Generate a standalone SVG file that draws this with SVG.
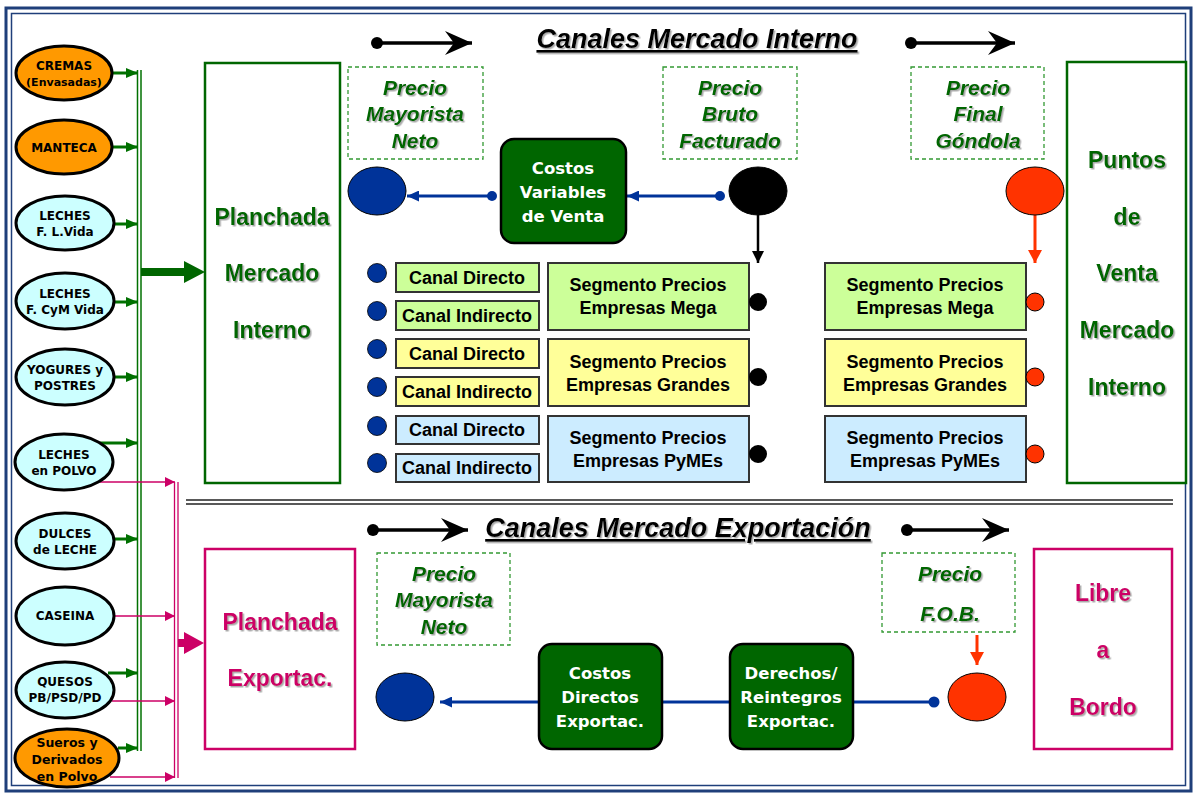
<svg xmlns="http://www.w3.org/2000/svg" width="1193" height="794" viewBox="0 0 1193 794">
<style>
.comic{font-family:"Comic Sans MS","DejaVu Sans",sans-serif;font-weight:bold;text-anchor:middle}
.eltxt{font-size:12px;fill:#000}
.wtxt{font-size:16.5px;fill:#fff}
.big{font-family:"Liberation Sans",Arial,sans-serif;font-weight:bold;text-anchor:middle;font-size:23px}
.gtxt{fill:#006600}
.ptxt{fill:#CC0066}
.price{font-family:"Liberation Sans",Arial,sans-serif;font-weight:bold;font-style:italic;text-anchor:middle;font-size:21px;fill:#006600}
.title{font-family:"Liberation Sans",Arial,sans-serif;font-weight:bold;font-style:italic;text-anchor:middle;font-size:27px;fill:#000;text-decoration:underline}
.box{font-family:"Liberation Sans",Arial,sans-serif;font-weight:bold;text-anchor:middle;font-size:18px;fill:#000}
.orange{fill:#FF9900;stroke:#000;stroke-width:3}
.cyan{fill:#CCFFFF;stroke:#000;stroke-width:3}
.dash{fill:none;stroke:#339933;stroke-width:1.3;stroke-dasharray:4 3}
.cg{fill:#CCFF99;stroke:#333;stroke-width:2}
.cy{fill:#FFFF99;stroke:#333;stroke-width:2}
.cb{fill:#CCECFF;stroke:#333;stroke-width:2}
.dk{fill:#006600;stroke:#000;stroke-width:2.5}
.gbox{fill:#fff;stroke:#006600;stroke-width:2.5}
.pbox{fill:#fff;stroke:#CC0066;stroke-width:2.5}
.blueE{fill:#003399;stroke:#000;stroke-width:1}
.redE{fill:#FF3300;stroke:#000;stroke-width:1}
.blackE{fill:#000;stroke:#000;stroke-width:1}
.ga{stroke:#007000;stroke-width:3;fill:none;marker-end:url(#mG)}
.pa{stroke:#CC0066;stroke-width:1.5;fill:none;marker-end:url(#mP)}
.ba{stroke:#003399;stroke-width:3;fill:none}
.ta{stroke:#000;stroke-width:3.5;fill:none;marker-end:url(#mChev)}
</style>
<defs>
<filter id="sh" x="-10%" y="-10%" width="130%" height="140%">
<feDropShadow dx="1.5" dy="1.5" stdDeviation="0.4" flood-color="#888" flood-opacity="0.7"/>
</filter>
<marker id="mG" markerUnits="userSpaceOnUse" markerWidth="12" markerHeight="10" refX="12" refY="5" orient="auto"><path d="M0,0 L12,5 L0,10 Z" fill="#007000"/></marker>
<marker id="mP" markerUnits="userSpaceOnUse" markerWidth="10" markerHeight="10" refX="10" refY="5" orient="auto"><path d="M0,0 L10,5 L0,10 Z" fill="#CC0066"/></marker>
<marker id="mB" markerUnits="userSpaceOnUse" markerWidth="12" markerHeight="11" refX="12" refY="5.5" orient="auto"><path d="M0,0 L12,5.5 L0,11 Z" fill="#003399"/></marker>
<marker id="mK" markerUnits="userSpaceOnUse" markerWidth="12" markerHeight="12" refX="12" refY="6" orient="auto"><path d="M0,0 L12,6 L0,12 Z" fill="#000"/></marker>
<marker id="mR" markerUnits="userSpaceOnUse" markerWidth="13" markerHeight="14" refX="13" refY="7" orient="auto"><path d="M0,0 L13,7 L0,14 Z" fill="#FF3300"/></marker>
<marker id="mChev" markerUnits="userSpaceOnUse" markerWidth="27" markerHeight="24" refX="27" refY="12" orient="auto"><path d="M0,0 L27,12 L0,24 L9,12 Z" fill="#000"/></marker>
</defs>
<rect x="0" y="0" width="1193" height="794" fill="#fff"/>
<!-- frame -->
<rect x="6" y="8" width="1185" height="783" fill="none" stroke="#1F3F7A" stroke-width="3"/>
<rect x="11.5" y="13.5" width="1174" height="772" fill="none" stroke="#1F3F7A" stroke-width="1.5"/>
<!-- separator -->
<line x1="186" y1="500" x2="1173" y2="500" stroke="#222" stroke-width="1.5"/>
<line x1="186" y1="504" x2="1173" y2="504" stroke="#222" stroke-width="1.5"/>
<!-- titles -->
<text class="title" x="697" y="48" filter="url(#sh)">Canales Mercado Interno</text>
<text class="title" x="678" y="537" filter="url(#sh)">Canales Mercado Exportación</text>

<g id="connectors">
<!-- title arrows -->
<circle cx="377" cy="43" r="6"/><line class="ta" x1="377" y1="43" x2="472" y2="43"/>
<circle cx="911" cy="43" r="6"/><line class="ta" x1="911" y1="43" x2="1015" y2="43"/>
<circle cx="373" cy="530" r="6"/><line class="ta" x1="373" y1="530" x2="468" y2="530"/>
<circle cx="907" cy="530" r="6"/><line class="ta" x1="907" y1="530" x2="1009" y2="530"/>
<!-- green bus -->
<line x1="137.5" y1="70" x2="137.5" y2="751" stroke="#007000" stroke-width="1.5"/>
<line x1="141" y1="70" x2="141" y2="751" stroke="#007000" stroke-width="1.5"/>
<line class="ga" x1="112" y1="73" x2="138" y2="73"/>
<line class="ga" x1="112" y1="147" x2="138" y2="147"/>
<line class="ga" x1="114" y1="224" x2="138" y2="224"/>
<line class="ga" x1="114" y1="302" x2="138" y2="302"/>
<line class="ga" x1="114" y1="377" x2="138" y2="377"/>
<line class="ga" x1="100" y1="443" x2="138" y2="443"/>
<line class="ga" x1="114" y1="539" x2="138" y2="539"/>
<line class="ga" x1="108" y1="673" x2="138" y2="673"/>
<line class="ga" x1="118" y1="748" x2="138" y2="748"/>
<!-- pink bus -->
<line x1="174.5" y1="482" x2="174.5" y2="778" stroke="#CC0066" stroke-width="1.3"/>
<line x1="178" y1="482" x2="178" y2="778" stroke="#CC0066" stroke-width="1.3"/>
<line class="pa" x1="100" y1="482" x2="175" y2="482"/>
<line class="pa" x1="114" y1="616" x2="175" y2="616"/>
<line class="pa" x1="112" y1="701" x2="175" y2="701"/>
<line class="pa" x1="110" y1="777" x2="175" y2="777"/>
<!-- big arrows -->
<path d="M141,268 L184,268 L184,261 L205,272 L184,283 L184,276 L141,276 Z" fill="#006600"/>
<path d="M178,639 L184,639 L184,632 L204,643 L184,654 L184,647 L178,647 Z" fill="#CC0066"/>
<!-- blue connectors top -->
<circle cx="492" cy="196" r="5" fill="#003399"/>
<line class="ba" x1="492" y1="196" x2="407" y2="196" marker-end="url(#mB)"/>
<circle cx="720" cy="196" r="5" fill="#003399"/>
<line class="ba" x1="720" y1="196" x2="627" y2="196" marker-end="url(#mB)"/>
<!-- black arrow down -->
<line x1="758" y1="215" x2="758" y2="263" stroke="#000" stroke-width="2.5" marker-end="url(#mK)"/>
<!-- red arrow down -->
<line x1="1035" y1="215" x2="1035" y2="263" stroke="#FF3300" stroke-width="3" marker-end="url(#mR)"/>
<!-- bottom blue chain -->
<line class="ba" x1="539" y1="702" x2="440" y2="702" marker-end="url(#mB)"/>
<line class="ba" x1="662" y1="702" x2="730" y2="702"/>
<line class="ba" x1="853" y1="702" x2="934" y2="702"/>
<circle cx="934" cy="702" r="5.5" fill="#003399"/>
<line x1="977" y1="635" x2="977" y2="665" stroke="#FF3300" stroke-width="3" marker-end="url(#mR)"/>
</g>

<!-- product ellipses -->
<g id="cremas"><ellipse class="orange" cx="64" cy="73" rx="48" ry="27"/><text class="comic eltxt" x="64" y="70">CREMAS</text><text class="comic" x="64" y="86" font-size="11" fill="#000">(Envasadas)</text></g>
<g id="manteca"><ellipse class="orange" cx="64" cy="147" rx="48" ry="27"/><text class="comic eltxt" x="64" y="152">MANTECA</text></g>
<g id="leches-lvida"><ellipse class="cyan" cx="65" cy="223" rx="49" ry="27"/><text class="comic eltxt" x="65" y="220">LECHES</text><text class="comic eltxt" x="65" y="236">F. L.Vida</text></g>
<g id="leches-cym"><ellipse class="cyan" cx="65" cy="301" rx="49" ry="28"/><text class="comic eltxt" x="65" y="298">LECHES</text><text class="comic eltxt" x="65" y="314">F. CyM Vida</text></g>
<g id="yogures"><ellipse class="cyan" cx="65" cy="377" rx="49" ry="28"/><text class="comic eltxt" x="65" y="374">YOGURES y</text><text class="comic eltxt" x="65" y="390">POSTRES</text></g>
<g id="leches-polvo"><ellipse class="cyan" cx="64" cy="462" rx="49" ry="28"/><text class="comic eltxt" x="64" y="459">LECHES</text><text class="comic eltxt" x="64" y="475">en POLVO</text></g>
<g id="dulces"><ellipse class="cyan" cx="65" cy="541" rx="49" ry="28"/><text class="comic eltxt" x="65" y="538">DULCES</text><text class="comic eltxt" x="65" y="554">de LECHE</text></g>
<g id="caseina"><ellipse class="cyan" cx="65" cy="616" rx="49" ry="29"/><text class="comic eltxt" x="65" y="620">CASEINA</text></g>
<g id="quesos"><ellipse class="cyan" cx="65" cy="690" rx="49" ry="28"/><text class="comic eltxt" x="65" y="686">QUESOS</text><text class="comic eltxt" x="65" y="702">PB/PSD/PD</text></g>
<g id="sueros"><ellipse class="orange" cx="67" cy="758" rx="52" ry="29"/><text class="comic" font-size="12.5" x="67" y="747">Sueros y</text><text class="comic" font-size="12.5" x="67" y="764">Derivados</text><text class="comic" font-size="12.5" x="67" y="781">en Polvo</text></g>

<!-- Planchada boxes -->
<g id="planchada-interno"><rect class="gbox" x="205" y="63" width="135" height="420"/>
<g filter="url(#sh)"><text class="big gtxt" x="272" y="225">Planchada</text><text class="big gtxt" x="272" y="281">Mercado</text><text class="big gtxt" x="272" y="338">Interno</text></g></g>
<g id="planchada-export"><rect class="pbox" x="205" y="549" width="150" height="200"/>
<g filter="url(#sh)"><text class="big ptxt" x="280" y="630">Planchada</text><text class="big ptxt" x="280" y="686">Exportac.</text></g></g>

<!-- Puntos de venta -->
<g id="puntos-venta"><rect class="gbox" x="1067" y="62" width="119" height="421"/>
<g filter="url(#sh)"><text class="big gtxt" x="1127" y="168">Puntos</text><text class="big gtxt" x="1127" y="225">de</text><text class="big gtxt" x="1127" y="281">Venta</text><text class="big gtxt" x="1127" y="338">Mercado</text><text class="big gtxt" x="1127" y="395">Interno</text></g></g>

<!-- Libre a Bordo -->
<g id="libre-bordo"><rect class="pbox" x="1034" y="549" width="138" height="200"/>
<g filter="url(#sh)"><text class="big ptxt" x="1103" y="601">Libre</text><text class="big ptxt" x="1103" y="658">a</text><text class="big ptxt" x="1103" y="715">Bordo</text></g></g>

<!-- price labels -->
<g id="precio-mayorista-int"><rect class="dash" x="348" y="67" width="135" height="92"/>
<g filter="url(#sh)"><text class="price" x="415" y="95">Precio</text><text class="price" x="415" y="121">Mayorista</text><text class="price" x="415" y="148">Neto</text></g></g>
<g id="precio-bruto"><rect class="dash" x="663" y="67" width="134" height="92"/>
<g filter="url(#sh)"><text class="price" x="730" y="95">Precio</text><text class="price" x="730" y="121">Bruto</text><text class="price" x="730" y="148">Facturado</text></g></g>
<g id="precio-final"><rect class="dash" x="911" y="67" width="133" height="92"/>
<g filter="url(#sh)"><text class="price" x="978" y="95">Precio</text><text class="price" x="978" y="121">Final</text><text class="price" x="978" y="148">Góndola</text></g></g>
<g id="precio-mayorista-exp"><rect class="dash" x="377" y="553" width="133" height="92"/>
<g filter="url(#sh)"><text class="price" x="444" y="581">Precio</text><text class="price" x="444" y="607">Mayorista</text><text class="price" x="444" y="634">Neto</text></g></g>
<g id="precio-fob"><rect class="dash" x="882" y="553" width="133" height="79"/>
<g filter="url(#sh)"><text class="price" x="950" y="581">Precio</text><text class="price" x="950" y="621">F.O.B.</text></g></g>

<!-- costos -->
<g id="costos-variables"><rect class="dk" x="501" y="139" width="125" height="104" rx="13"/>
<text class="comic wtxt" x="563" y="174">Costos</text><text class="comic wtxt" x="563" y="198">Variables</text><text class="comic wtxt" x="563" y="222">de Venta</text></g>
<g id="costos-directos"><rect class="dk" x="539" y="644" width="123" height="105" rx="13"/>
<text class="comic wtxt" x="600" y="679">Costos</text><text class="comic wtxt" x="600" y="703">Directos</text><text class="comic wtxt" x="600" y="727">Exportac.</text></g>
<g id="derechos"><rect class="dk" x="730" y="644" width="123" height="105" rx="13"/>
<text class="comic wtxt" x="791" y="679">Derechos/</text><text class="comic wtxt" x="791" y="703">Reintegros</text><text class="comic wtxt" x="791" y="727">Exportac.</text></g>

<!-- price ellipses -->
<g id="ellipse-mayorista"><ellipse class="blueE" cx="377" cy="191" rx="29" ry="24"/></g>
<g id="ellipse-bruto"><ellipse class="blackE" cx="758" cy="191" rx="29" ry="24"/></g>
<g id="ellipse-final"><ellipse class="redE" cx="1035" cy="191" rx="29" ry="24"/></g>
<g id="ellipse-mayorista-exp"><ellipse class="blueE" cx="405" cy="697" rx="29" ry="24"/></g>
<g id="ellipse-fob"><ellipse class="redE" cx="977" cy="697" rx="29" ry="24"/></g>

<!-- canal dots and boxes -->
<g id="canales">
<circle cx="377" cy="273" r="9.5" fill="#003399" stroke="#000" stroke-width="0.8"/>
<circle cx="377" cy="311" r="9.5" fill="#003399" stroke="#000" stroke-width="0.8"/>
<circle cx="377" cy="349" r="9.5" fill="#003399" stroke="#000" stroke-width="0.8"/>
<circle cx="377" cy="387" r="9.5" fill="#003399" stroke="#000" stroke-width="0.8"/>
<circle cx="377" cy="426" r="9.5" fill="#003399" stroke="#000" stroke-width="0.8"/>
<circle cx="377" cy="463" r="9.5" fill="#003399" stroke="#000" stroke-width="0.8"/>
</g>
<g id="canal-directo-mega"><rect class="cg" x="396" y="263" width="143" height="29"/><text class="box" x="467" y="284">Canal Directo</text></g>
<g id="canal-indirecto-mega"><rect class="cg" x="396" y="301" width="143" height="29"/><text class="box" x="467" y="322">Canal Indirecto</text></g>
<g id="canal-directo-grandes"><rect class="cy" x="396" y="339" width="143" height="29"/><text class="box" x="467" y="360">Canal Directo</text></g>
<g id="canal-indirecto-grandes"><rect class="cy" x="396" y="377" width="143" height="29"/><text class="box" x="467" y="398">Canal Indirecto</text></g>
<g id="canal-directo-pymes"><rect class="cb" x="396" y="416" width="143" height="28"/><text class="box" x="467" y="436">Canal Directo</text></g>
<g id="canal-indirecto-pymes"><rect class="cb" x="396" y="454" width="143" height="28"/><text class="box" x="467" y="474">Canal Indirecto</text></g>

<g id="seg-mega-1"><rect class="cg" x="548" y="263" width="201" height="67"/><text class="box" x="648" y="291">Segmento Precios</text><text class="box" x="648" y="314">Empresas Mega</text></g>
<g id="seg-grandes-1"><rect class="cy" x="548" y="339" width="201" height="67"/><text class="box" x="648" y="368">Segmento Precios</text><text class="box" x="648" y="391">Empresas Grandes</text></g>
<g id="seg-pymes-1"><rect class="cb" x="548" y="416" width="201" height="66"/><text class="box" x="648" y="444">Segmento Precios</text><text class="box" x="648" y="467">Empresas PyMEs</text></g>
<g id="dots-black">
<circle cx="758" cy="302" r="9"/><circle cx="758" cy="377" r="9"/><circle cx="758" cy="454" r="9"/>
</g>

<g id="seg-mega-2"><rect class="cg" x="825" y="263" width="201" height="67"/><text class="box" x="925" y="291">Segmento Precios</text><text class="box" x="925" y="314">Empresas Mega</text></g>
<g id="seg-grandes-2"><rect class="cy" x="825" y="339" width="201" height="67"/><text class="box" x="925" y="368">Segmento Precios</text><text class="box" x="925" y="391">Empresas Grandes</text></g>
<g id="seg-pymes-2"><rect class="cb" x="825" y="416" width="201" height="66"/><text class="box" x="925" y="444">Segmento Precios</text><text class="box" x="925" y="467">Empresas PyMEs</text></g>
<g id="dots-red">
<circle cx="1035" cy="302" r="9" fill="#FF3300" stroke="#000" stroke-width="1"/><circle cx="1035" cy="377" r="9" fill="#FF3300" stroke="#000" stroke-width="1"/><circle cx="1035" cy="454" r="9" fill="#FF3300" stroke="#000" stroke-width="1"/>
</g>
</svg>
